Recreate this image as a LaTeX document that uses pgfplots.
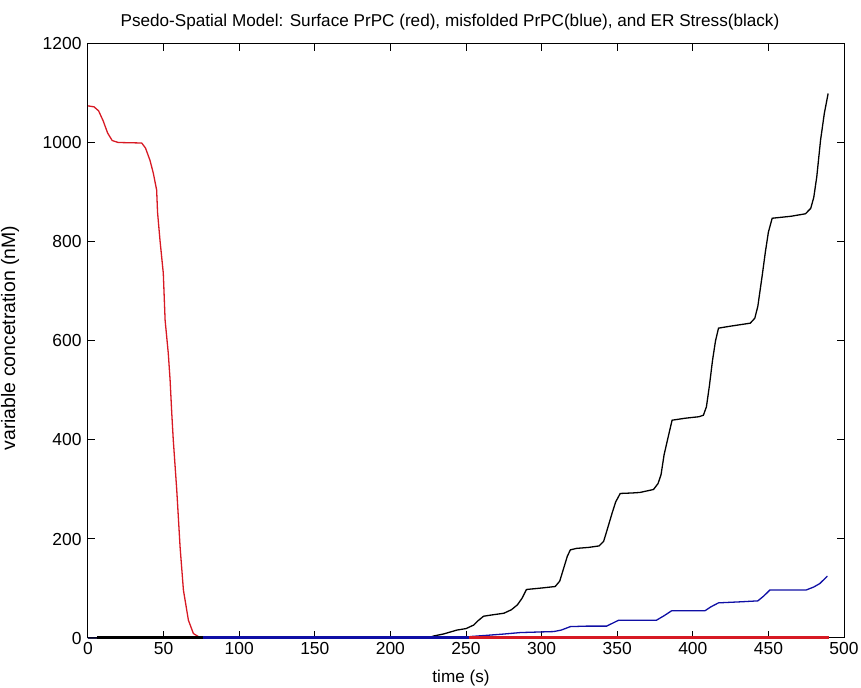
\documentclass[border=0pt]{standalone}
\usepackage{pgfplots}
\pgfplotsset{compat=1.18}
\usepackage{fontspec}
\setmainfont{Liberation Sans}
\definecolor{mred}{RGB}{215,25,35}
\definecolor{mblue}{RGB}{15,15,165}
\begin{document}
\begin{tikzpicture}[x=1bp,y=1bp]
\begin{axis}[
  at={(0,0)}, anchor=south west,
  scale only axis, width=756bp, height=594bp,
  xmin=0, xmax=500, ymin=0, ymax=1200,
  xtick={0,50,...,500}, ytick={0,200,...,1200},
  tick align=inside, major tick length=7bp,
  axis line style={black, line width=1bp},
  every tick/.style={black, line width=1bp},
  /pgf/number format/assume math mode=true,
  /pgf/number format/1000 sep={},
  tick label style={font=\fontsize{17.5}{19}\selectfont},
  xticklabel style={yshift=-1bp},
  yticklabel style={xshift=-3bp},
  xlabel={time (s)},
  xlabel style={font=\fontsize{17.2}{19}\selectfont, at={(axis description cs:0.4934,-0.067)}, anchor=center},
  ylabel={variable concetration (nM)},
  ylabel style={font=\fontsize{19.5}{21}\selectfont, at={(axis description cs:-0.103,0.505)}, anchor=center, rotate=0},
  clip=false,
]
\addplot[mred, line width=1.3bp] coordinates {
(0,1075)(4,1073)(7,1065)(10,1045)(13,1020)(16,1005)(20,1001)(35.5,1000)(38,990)(41,965)(43.2,939)(45.4,905)(46,860)(47.6,804)(49.8,737)(51,642)(53.1,575)(54.3,521)(55.4,454)(56.4,400)(58.7,299)(60.9,184)(63.1,97)(66.4,36)(69.7,9)(74,1)(77,0)(490,0)
};
\addplot[mblue, line width=1.3bp] coordinates {
(0,0)(250,0)(253,3)(262,5)(275,8)(286,11)(308,13)(313,16)(319,23)(330,24)(343,24)(347,30)(351,36)(376,36)(381,45)(386,55)(408,55)(412,63)(417,71)(431,73)(443,75)(447,85)(451,97)(475,97)(480,103)(484,110)(489,125)
};
\addplot[black, line width=1.3bp] coordinates {
(0,0)(225,0)(228.5,4)(235,8)(244,16)(250,19)(255,26)(258,35)(261.6,44)(268,47)(275,50)(280,57)(284,67)(287,80)(290,98)(300,101)(309,104)(312,115)(314,135)(317,165)(319,178)(323,181)(331,183)(338,186)(341,195)(343,215)(346.6,252)(349,275)(352,292)(360,293)(365,294)(374,300)(377,312)(379,330)(381,370)(384,410)(386.3,440)(395,444)(404,447)(407,450)(409,467)(411,510)(413,560)(415,600)(417,626)(425,630)(438,636)(441,646)(443,670)(445.8,730)(448,780)(450,820)(452.5,848)(465,852)(474.5,857)(478,868)(480,890)(482,932)(484.5,1006)(487,1060)(489.5,1100)
};
% bottom overlays seen along the x axis
\addplot[black, line width=2.5bp] coordinates {(6,1)(76,1)};
\addplot[mblue, line width=2.5bp] coordinates {(76,1)(252,1)};
\addplot[mred, line width=2.5bp] coordinates {(252,1)(490,1)};
\node[font=\fontsize{17.2}{19}\selectfont, anchor=center] at (axis description cs:0.4788,1.037)
  {Psedo-Spatial Model: Surface PrPC (red), misfolded PrPC(blue), and ER Stress(black)};
\end{axis}
\pgfresetboundingbox
\path ([xshift=-88bp,yshift=-50bp]current axis.south west) rectangle ([xshift=17bp,yshift=44bp]current axis.north east);
\end{tikzpicture}
\end{document}
